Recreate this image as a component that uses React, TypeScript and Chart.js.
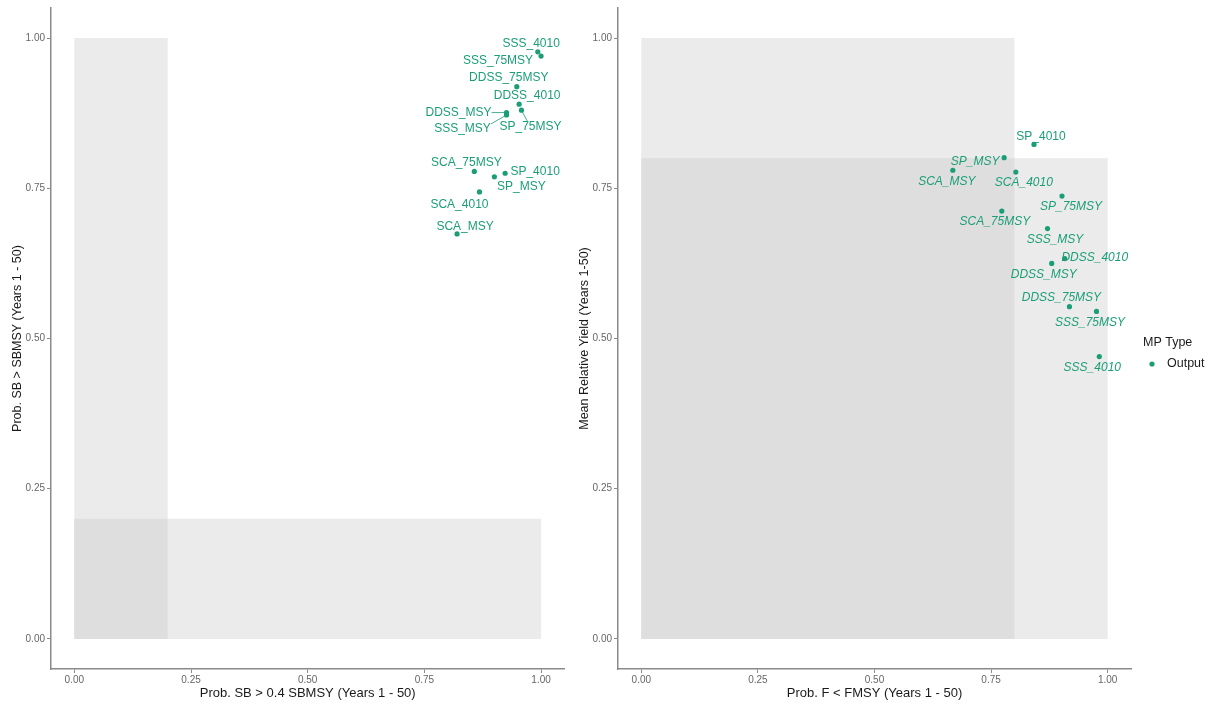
import React, { useEffect, useRef } from "react";
import { Chart, registerables } from "chart.js";

Chart.register(...registerables);

// ---------- data ----------
const tickValues = [0, 0.25, 0.5, 0.75, 1];
const seriesName = "Output";
const legendTitle = "MP Type";

const leftXTitle = "Prob. SB > 0.4 SBMSY (Years 1 - 50)";
const leftYTitle = "Prob. SB > SBMSY (Years 1 - 50)";
const rightXTitle = "Prob. F < FMSY (Years 1 - 50)";
const rightYTitle = "Mean Relative Yield (Years 1-50)";

const leftNames = ["SSS_4010", "SSS_75MSY", "DDSS_75MSY", "DDSS_4010", "SP_75MSY", "DDSS_MSY", "SSS_MSY", "SCA_75MSY", "SP_4010", "SP_MSY", "SCA_4010", "SCA_MSY"];
const leftX = [0.993, 1.0, 0.948, 0.953, 0.958, 0.926, 0.926, 0.857, 0.923, 0.9, 0.868, 0.82];
const leftY = [0.977, 0.97, 0.919, 0.89, 0.88, 0.876, 0.872, 0.778, 0.775, 0.769, 0.744, 0.674];

const rightNames = ["SP_4010", "SP_MSY", "SCA_MSY", "SCA_4010", "SP_75MSY", "SCA_75MSY", "SSS_MSY", "DDSS_4010", "DDSS_MSY", "DDSS_75MSY", "SSS_75MSY", "SSS_4010"];
const rightX = [0.842, 0.778, 0.668, 0.803, 0.902, 0.773, 0.871, 0.908, 0.88, 0.918, 0.976, 0.982];
const rightY = [0.823, 0.801, 0.78, 0.777, 0.737, 0.712, 0.683, 0.633, 0.625, 0.553, 0.545, 0.47];

type Zone = { x0: number; x1: number; y0: number; y1: number };
const leftZones: Zone[] = [
  { x0: 0, x1: 0.2, y0: 0, y1: 1 },
  { x0: 0, x1: 1, y0: 0, y1: 0.2 },
];
const rightZones: Zone[] = [
  { x0: 0, x1: 0.8, y0: 0, y1: 1 },
  { x0: 0, x1: 1, y0: 0, y1: 0.8 },
];

// ---------- styles (label placement offsets in px, repel-like) ----------
const leftLabelOffsets = [[-6.6, -7.7], [-43, 5], [-8, -9], [8, -8], [9, 17], [-48, 0.5], [-44, 14], [-8, -9], [30, -2], [27, 10], [-20, 13], [8, -7]];
const rightLabelOffsets = [[7, -8], [-29, 4], [-6, 11], [8, 10.5], [9, 11], [-7, 11], [7.5, 11], [30, -0.6], [-8, 11.6], [-8, -9], [-6.5, 10.7], [-7, 11]];
// segment style: "near" = to nearest edge, "center" = aimed at label centre
const leftSegMode = ["near", "near", "near", "near", "center", "near", "near", "near", "near", "near", "near", "near"];
const rightSegMode = rightNames.map(() => "near");
const leftItalic = leftNames.map(() => false);
const rightItalic = rightNames.map((n, i) => i !== 0);

const GREEN = "#1b9e77";
const FAMILY = '"Liberation Sans", Arial, Helvetica, sans-serif';
const AXIS_COLOR = "#8a8a8a";

function zonesPlugin(zones: Zone[]) {
  return {
    id: "zones",
    beforeDatasetsDraw(chart: any) {
      const { ctx, scales } = chart;
      const x = scales.x;
      const y = scales.y;
      const fill = (r: Zone, color: string) => {
        const l = x.getPixelForValue(r.x0);
        const rr = x.getPixelForValue(r.x1);
        const t = y.getPixelForValue(r.y1);
        const b = y.getPixelForValue(r.y0);
        ctx.fillStyle = color;
        ctx.fillRect(l, t, rr - l, b - t);
      };
      ctx.save();
      zones.forEach((z) => fill(z, "#ebebeb"));
      const ov: Zone = {
        x0: Math.max(...zones.map((z) => z.x0)),
        x1: Math.min(...zones.map((z) => z.x1)),
        y0: Math.max(...zones.map((z) => z.y0)),
        y1: Math.min(...zones.map((z) => z.y1)),
      };
      if (ov.x1 > ov.x0 && ov.y1 > ov.y0) fill(ov, "#dedede");
      ctx.restore();
    },
  };
}

function labelsPlugin(names: string[], offsets: number[][], italic: boolean[], segMode: string[]) {
  return {
    id: "pointLabels",
    afterDatasetsDraw(chart: any) {
      const { ctx } = chart;
      const meta = chart.getDatasetMeta(0);
      ctx.save();
      meta.data.forEach((el: any, i: number) => {
        const px = el.x;
        const py = el.y;
        const [dx, dy] = offsets[i];
        const cx = px + dx;
        const cy = py + dy;
        ctx.font = `${italic[i] ? "italic " : ""}12px ${FAMILY}`;
        const w = ctx.measureText(names[i]).width;
        const l = cx - w / 2;
        const r = cx + w / 2;
        const t = cy - 5;
        const b = cy + 5;
        const nx = Math.min(Math.max(px, l), r);
        const ny = Math.min(Math.max(py, t), b);
        const d = Math.hypot(px - nx, py - ny);
        if (d > 9) {
          let qx = nx;
          let qy = ny;
          if (segMode[i] === "center") {
            // intersect ray point->centre with box
            const vx = cx - px;
            const vy = cy - py;
            const tx = vx !== 0 ? ((vx > 0 ? l : r) - px) / vx : -Infinity;
            const ty = vy !== 0 ? ((vy > 0 ? t : b) - py) / vy : -Infinity;
            const tt = Math.max(tx, ty);
            qx = px + vx * tt;
            qy = py + vy * tt;
          }
          ctx.strokeStyle = GREEN;
          ctx.lineWidth = 0.8;
          ctx.beginPath();
          ctx.moveTo(qx, qy);
          ctx.lineTo(px, py);
          ctx.stroke();
        }
        ctx.fillStyle = GREEN;
        ctx.textAlign = "center";
        ctx.textBaseline = "middle";
        ctx.fillText(names[i], cx, cy);
      });
      ctx.restore();
    },
  };
}

function legendPlugin(x: number, y: number) {
  return {
    id: "mpLegend",
    afterDraw(chart: any) {
      const { ctx } = chart;
      const ds = chart.data.datasets[0];
      ctx.save();
      ctx.font = `12.5px ${FAMILY}`;
      ctx.fillStyle = "#1a1a1a";
      ctx.textAlign = "left";
      ctx.textBaseline = "middle";
      ctx.fillText(legendTitle, x, y);
      ctx.fillStyle = GREEN;
      ctx.beginPath();
      ctx.arc(x + 9, y + 21, 2.6, 0, Math.PI * 2);
      ctx.fill();
      ctx.fillStyle = "#1a1a1a";
      ctx.fillText(ds.label, x + 24, y + 21);
      ctx.restore();
    },
  };
}

function axisOpts(title: string, horizontal: boolean) {
  return {
    type: "linear",
    min: -0.05,
    max: 1.05,
    afterBuildTicks: (s: any) => {
      s.ticks = tickValues.map((v) => ({ value: v }));
    },
    afterFit: (s: any) => {
      if (horizontal) s.height = 39;
      else s.width = 51;
    },
    grid: {
      display: true,
      drawOnChartArea: false,
      drawTicks: true,
      tickLength: 4,
      tickColor: AXIS_COLOR,
      tickWidth: 1,
    },
    border: { display: true, color: AXIS_COLOR, width: 1.5 },
    ticks: {
      color: "#666666",
      font: { size: 10, family: FAMILY },
      padding: horizontal ? 1 : 2,
      autoSkip: false,
      maxRotation: 0,
      callback: (v: any) => Number(v).toFixed(2),
    },
    title: {
      display: true,
      text: title,
      color: "#1a1a1a",
      font: { size: horizontal ? 13 : 12.5, family: FAMILY },
      padding: horizontal ? { top: 0, bottom: 7 } : { top: 10, bottom: 0 },
    },
  };
}

function makeConfig(xs: number[], ys: number[], xTitle: string, yTitle: string, padRight: number, plugins: any[]) {
  return {
    type: "scatter",
    data: {
      datasets: [
        {
          label: seriesName,
          data: xs.map((x, i) => ({ x, y: ys[i] })),
          backgroundColor: GREEN,
          borderColor: GREEN,
          borderWidth: 0,
          pointRadius: 2.6,
          pointHoverRadius: 2.6,
        },
      ],
    },
    options: {
      responsive: false,
      animation: false,
      devicePixelRatio: 1,
      layout: { padding: { top: 8, right: padRight, left: 0, bottom: 0 } },
      plugins: { legend: { display: false }, tooltip: { enabled: false } },
      scales: {
        x: axisOpts(xTitle, true),
        y: axisOpts(yTitle, false),
      },
    },
    plugins,
  } as any;
}

export default function App() {
  const leftRef = useRef<HTMLCanvasElement | null>(null);
  const rightRef = useRef<HTMLCanvasElement | null>(null);

  useEffect(() => {
    if (!leftRef.current || !rightRef.current) return;
    const c1 = new Chart(
      leftRef.current,
      makeConfig(leftX, leftY, leftXTitle, leftYTitle, 2, [
        zonesPlugin(leftZones),
        labelsPlugin(leftNames, leftLabelOffsets, leftItalic, leftSegMode),
      ])
    );
    const c2 = new Chart(
      rightRef.current,
      makeConfig(rightX, rightY, rightXTitle, rightYTitle, 84, [
        zonesPlugin(rightZones),
        labelsPlugin(rightNames, rightLabelOffsets, rightItalic, rightSegMode),
        legendPlugin(1143 - 567, 343),
      ])
    );
    return () => {
      c1.destroy();
      c2.destroy();
    };
  }, []);

  return (
    <div style={{ position: "absolute", left: 0, top: 0, width: 1215, height: 708, background: "#ffffff" }}>
      <canvas ref={leftRef} width={567} height={708} style={{ position: "absolute", left: 0, top: 0 }} />
      <canvas ref={rightRef} width={648} height={708} style={{ position: "absolute", left: 567, top: 0 }} />
    </div>
  );
}
